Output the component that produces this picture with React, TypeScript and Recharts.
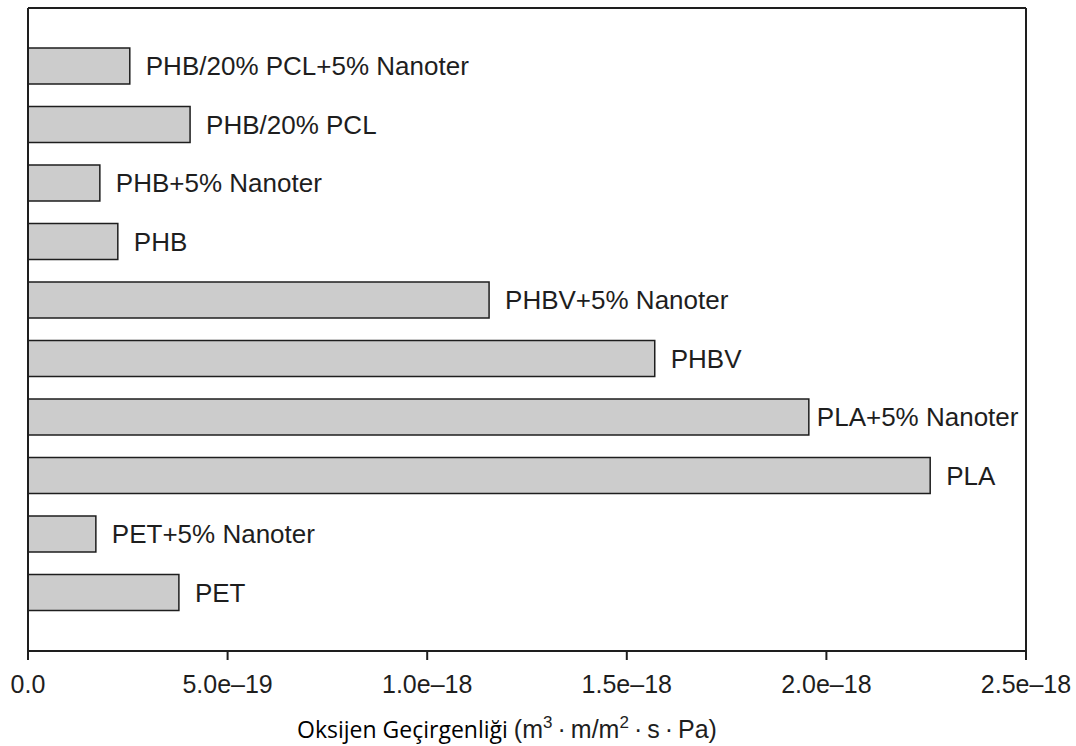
import { BarChart, Bar, XAxis, YAxis, LabelList, Label } from "recharts";

// Oxygen permeability per material, top-to-bottom as drawn.
const materials = [
  "PHB/20% PCL+5% Nanoter",
  "PHB/20% PCL",
  "PHB+5% Nanoter",
  "PHB",
  "PHBV+5% Nanoter",
  "PHBV",
  "PLA+5% Nanoter",
  "PLA",
  "PET+5% Nanoter",
  "PET",
];
const permeability = [
  2.55e-19, 4.06e-19, 1.8e-19, 2.25e-19, 1.155e-18,
  1.57e-18, 1.956e-18, 2.26e-18, 1.7e-19, 3.78e-19,
];
const xTicks = [0, 5e-19, 1e-18, 1.5e-18, 2e-18, 2.5e-18];
const xTickLabels = ["0.0", "5.0e\u201319", "1.0e\u201318", "1.5e\u201318", "2.0e\u201318", "2.5e\u201318"];

const rows = materials.map((name, i) => ({ name, value: permeability[i] }));

const INK = "#1e1e1e";
const SANS = "'Liberation Sans', Arial, Helvetica, sans-serif";
const FRAME = { stroke: INK, strokeWidth: 2 };
const LABEL_SIZE = 26;
const PLOT_RIGHT = 1026;

// bar-end label; tucks in closer when it would run into the frame
function BarLabel(props: any) {
  const { x, y, width, height, value } = props;
  const end = Number(x) + Number(width);
  const approxW = String(value).length * LABEL_SIZE * 0.55;
  const gap = end + 16 + approxW > PLOT_RIGHT - 8 ? 8 : 16;
  return (
    <text
      x={end + gap} y={Number(y) + Number(height) / 2} dy="0.355em"
      fill={INK} fontSize={LABEL_SIZE} fontFamily={SANS}
    >
      {value}
    </text>
  );
}

// axis title: first half in a Calibri-ish face, unit part in the chart's sans
function AxisTitle() {
  return (
    <text x={507} y={738} textAnchor="middle" fill={INK}>
      <tspan fontFamily="'Open Sans', 'Noto Sans', sans-serif" fontSize={23} fill="#000">
        Oksijen Geçirgenliği{" "}
      </tspan>
      <tspan fontFamily={SANS} fontSize={25}>(m</tspan>
      <tspan fontFamily={SANS} fontSize={17} dy={-10}>3</tspan>
      <tspan fontFamily={SANS} fontSize={25} dy={10}>{"\u2009·\u2009m/m"}</tspan>
      <tspan fontFamily={SANS} fontSize={17} dy={-10}>2</tspan>
      <tspan fontFamily={SANS} fontSize={25} dy={10}>{"\u2009·\u2009s\u2009·\u2009Pa)"}</tspan>
    </text>
  );
}

export default function App() {
  return (
    <div style={{ position: "absolute", left: 0, top: 0, width: 1076, height: 746, background: "#fff" }}>
      <BarChart
        width={1076} height={746} data={rows} layout="vertical"
        margin={{ top: 7, right: 49, bottom: 40, left: 27 }}
      >
        <XAxis
          type="number" dataKey="value" domain={[0, 2.5e-18]} ticks={xTicks}
          tickFormatter={(v: number) => xTickLabels[xTicks.indexOf(v)] ?? ""}
          height={55} tickSize={9} tickMargin={15}
          tick={{ fill: INK, fontSize: 25, fontFamily: SANS }}
          axisLine={FRAME} tickLine={FRAME}
        >
          <Label content={AxisTitle} />
        </XAxis>
        {/* top / right axes only draw the frame */}
        <XAxis
          xAxisId="top" orientation="top" type="number" domain={[0, 2.5e-18]}
          height={1} tick={false} tickLine={false} axisLine={FRAME}
        />
        <YAxis
          type="category" dataKey="name" width={1} tick={false} tickLine={false}
          padding={{ top: 29, bottom: 29 }} axisLine={FRAME}
        />
        <YAxis
          yAxisId="right" orientation="right" type="category" dataKey="name"
          width={1} tick={false} tickLine={false} axisLine={FRAME}
        />
        <Bar
          dataKey="value" barSize={36} fill="#cccccc" stroke={INK} strokeWidth={1.5}
          isAnimationActive={false}
        >
          <LabelList dataKey="name" content={BarLabel} />
        </Bar>
      </BarChart>
    </div>
  );
}
